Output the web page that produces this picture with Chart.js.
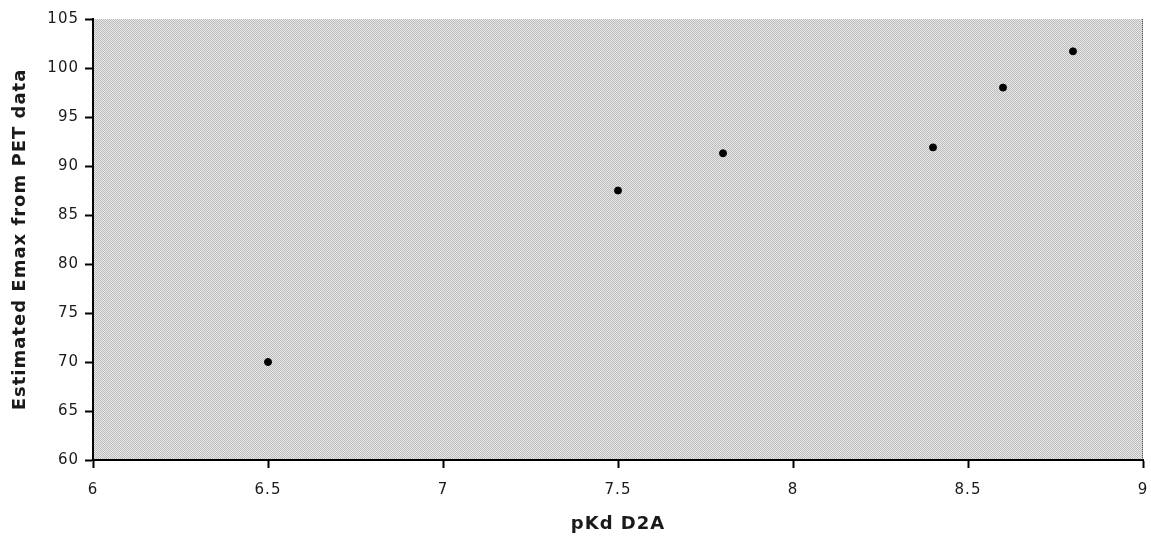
<!DOCTYPE html>
<html>
<head>
<meta charset="utf-8">
<script src="https://cdn.jsdelivr.net/npm/chart.js@4/dist/chart.umd.min.js"></script>
<style>
  html, body { margin: 0; padding: 0; background: #ffffff; }
  #wrap { width: 1151px; height: 541px; position: relative; }
</style>
</head>
<body>
<div id="wrap"><canvas id="c" width="1151" height="541"></canvas></div>
<script>
// pKd at the D2A receptor vs. Emax estimated from PET data
const pKdValues = [6.5, 7.5, 7.8, 8.4, 8.6, 8.8];
const emaxValues = [70.0, 87.5, 91.3, 91.9, 98.0, 101.7];

const xTicks = [6, 6.5, 7, 7.5, 8, 8.5, 9];
const yTicks = [60, 65, 70, 75, 80, 85, 90, 95, 100, 105];

const xTitle = 'pKd D2A';
const yTitle = 'Estimated Emax from PET data';

const points = pKdValues.map((x, i) => ({ x: x, y: emaxValues[i] }));

// fine two-tone checker used as the grey plot-area fill
function makeChecker() {
  const p = document.createElement('canvas');
  p.width = 2; p.height = 2;
  const g = p.getContext('2d');
  g.fillStyle = '#e8e8e8'; g.fillRect(0, 0, 2, 2);
  g.fillStyle = '#bcbcbc'; g.fillRect(0, 0, 1, 1); g.fillRect(1, 1, 1, 1);
  return p;
}

const plotFill = {
  id: 'plotFill',
  beforeDraw(chart) {
    const { ctx, chartArea: a } = chart;
    ctx.save();
    ctx.fillStyle = ctx.createPattern(makeChecker(), 'repeat');
    ctx.fillRect(a.left, a.top, a.right - a.left, a.bottom - a.top);
    ctx.strokeStyle = '#555555';
    ctx.lineWidth = 1;
    ctx.setLineDash([1, 1]);
    ctx.beginPath();
    ctx.moveTo(a.right - 0.5, a.top);
    ctx.lineTo(a.right - 0.5, a.bottom);
    ctx.stroke();
    ctx.restore();
    // slightly open lettering for all axis text
    ctx.letterSpacing = '1px';
  },
  afterDraw(chart) {
    chart.ctx.letterSpacing = '0px';
  }
};

const tickFont = { family: '"DejaVu Sans", Verdana, sans-serif', size: 15 };
const titleFont = { family: '"DejaVu Sans", Verdana, sans-serif', size: 18, weight: 'bold' };

new Chart(document.getElementById('c'), {
  type: 'scatter',
  data: {
    datasets: [{
      data: points,
      backgroundColor: '#000000',
      borderColor: '#000000',
      pointStyle: 'circle',
      pointRadius: 3.5,
      pointHoverRadius: 3.5
    }]
  },
  options: {
    responsive: false,
    animation: false,
    events: [],
    layout: { padding: { left: 0, top: 19, right: 0, bottom: 0 } },
    plugins: { legend: { display: false }, tooltip: { enabled: false } },
    scales: {
      x: {
        type: 'linear',
        min: 6, max: 9,
        afterBuildTicks(scale) { scale.ticks = xTicks.map(v => ({ value: v })); },
        afterFit(scale) { scale.height = 81; scale.paddingRight = 8; scale.paddingLeft = 0; },
        grid: { display: true, drawOnChartArea: false, drawTicks: true, tickLength: 8, tickWidth: 2, tickColor: '#000000' },
        border: { display: true, color: '#000000', width: 2 },
        ticks: { color: '#1a1a1a', font: tickFont, padding: 13, maxRotation: 0,
                 callback: v => String(v) },
        title: { display: true, text: xTitle, color: '#1a1a1a', font: titleFont, padding: { top: 0, bottom: 6 } }
      },
      y: {
        type: 'linear',
        min: 60, max: 105,
        afterBuildTicks(scale) { scale.ticks = yTicks.map(v => ({ value: v })); },
        afterFit(scale) { scale.width = 93; scale.paddingTop = 0; scale.paddingBottom = 0; },
        grid: { display: true, drawOnChartArea: false, drawTicks: true, tickLength: 8, tickWidth: 2, tickColor: '#000000' },
        border: { display: true, color: '#000000', width: 2 },
        ticks: { color: '#1a1a1a', font: tickFont, padding: 6, callback: v => String(v) },
        title: { display: true, text: yTitle, color: '#1a1a1a', font: titleFont, padding: { top: 10, bottom: 0 } }
      }
    }
  },
  plugins: [plotFill]
});
</script>
</body>
</html>
